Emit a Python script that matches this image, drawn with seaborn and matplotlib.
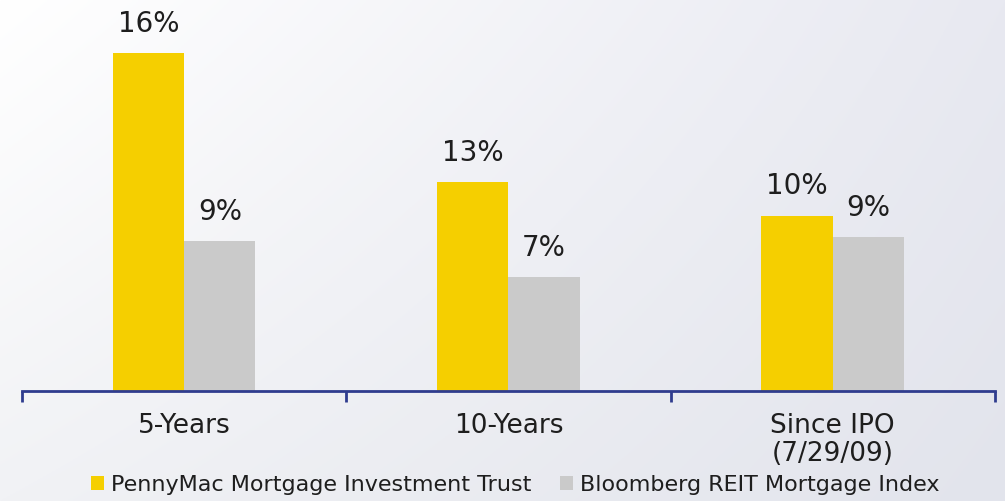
import numpy as np
import pandas as pd
import matplotlib
matplotlib.use("Agg")
import matplotlib.pyplot as plt
from matplotlib.colors import to_rgb
import seaborn as sns

# values (bar heights are as drawn, labels as printed)
periods = ["5-Years", "10-Years", "Since IPO\n(7/29/09)"]
series = ["PennyMac Mortgage Investment Trust", "Bloomberg REIT Mortgage Index"]
pmt_height = [16.0, 9.9, 8.3]
index_height = [7.1, 5.4, 7.3]
pmt_labels = ["16%", "13%", "10%"]
index_labels = ["9%", "7%", "9%"]

yellow = "#F5CF00"
grey = "#CACACA"
navy = "#2F3C8E"
text_col = "#1E1E1E"

df = pd.DataFrame({
    "period": periods * 2,
    "height": pmt_height + index_height,
    "series": [series[0]] * 3 + [series[1]] * 3,
})

sns.set_style("white")
plt.rcParams["font.family"] = ["DejaVu Sans"]

fig = plt.figure(figsize=(10.05, 5.01), dpi=100)

# soft background gradient
bg = fig.add_axes([0, 0, 1, 1])
h, w = 200, 400
yy, xx = np.mgrid[0:1:h * 1j, 0:1:w * 1j]
tl, tr = np.array(to_rgb("#FFFFFF")), np.array(to_rgb("#E8E9F1"))
bl, br = np.array(to_rgb("#F1F2F5")), np.array(to_rgb("#E2E4EC"))
img = ((1 - xx)[..., None] * (1 - yy)[..., None] * tl + xx[..., None] * (1 - yy)[..., None] * tr
       + (1 - xx)[..., None] * yy[..., None] * bl + xx[..., None] * yy[..., None] * br)
bg.imshow(img, aspect="auto", extent=[0, 1, 0, 1])
bg.axis("off")

ax = fig.add_axes([0.0219, 0.2196, 0.968, 0.7589])
ax.patch.set_alpha(0)
sns.barplot(data=df, x="period", y="height", hue="series", palette=[yellow, grey],
            width=0.44, saturation=1, linewidth=0, ax=ax)

ax.set_ylim(0, 18)
ax.set_xlim(-0.5, 2.5)
for cont, labs in zip(ax.containers, [pmt_labels, index_labels]):
    ax.bar_label(cont, labels=labs, padding=11, fontsize=20, color=text_col)

sns.despine(ax=ax, left=True)
ax.spines["bottom"].set_color(navy)
ax.spines["bottom"].set_linewidth(2)
ax.set_yticks([])
ax.set_ylabel("")
ax.set_xlabel("")
ax.set_xticks([-0.5, 0.5, 1.5, 2.5])
ax.set_xticklabels([])
ax.tick_params(axis="x", which="major", length=8, width=2, color=navy, direction="out", bottom=True)
ax.set_xticks([0, 1, 2], minor=True)
ax.set_xticklabels(periods, minor=True, fontsize=19, color=text_col, linespacing=1.1)
ax.tick_params(axis="x", which="minor", length=0, pad=16)

sns.move_legend(ax, "lower center", bbox_to_anchor=(0.507, -0.325), ncol=2, frameon=False,
                title=None, fontsize=16, handlelength=0.6, handleheight=0.6,
                handletextpad=0.3, columnspacing=1.3, labelcolor=text_col)

plt.savefig("out.png", dpi=100)
